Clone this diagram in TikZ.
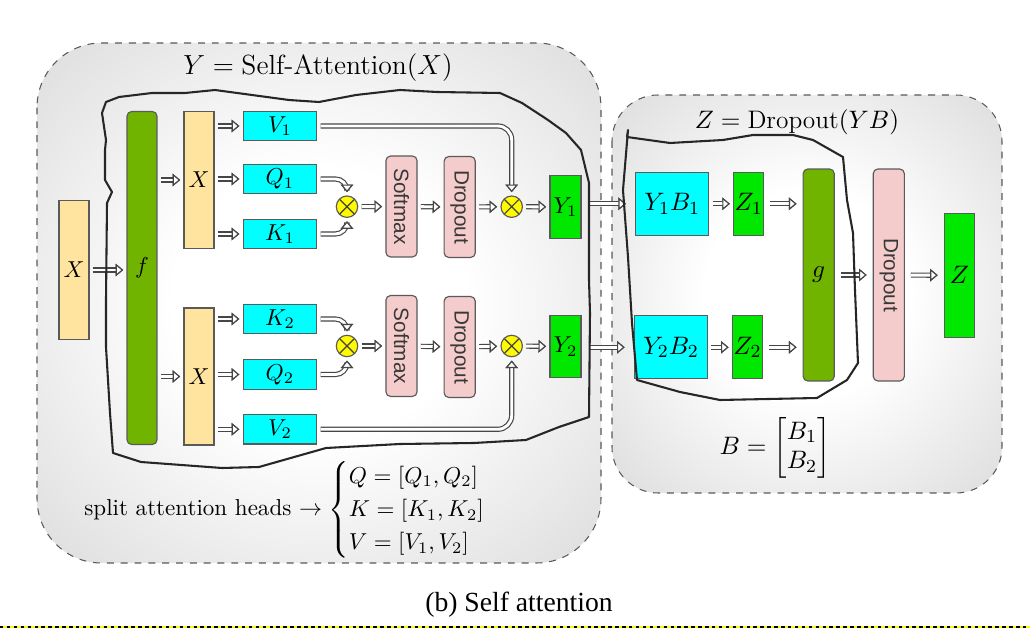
\documentclass[tikz,border=0pt]{standalone}
\usepackage{amsmath}
\usepackage{amssymb}
\usepackage{fontspec}
\newfontfamily\labelsans{Liberation Sans}
\newfontfamily\captionserif{Liberation Serif}
\usepackage{tikz}
\usetikzlibrary{arrows.meta,shapes,positioning,calc}
\usepackage{xcolor}
\definecolor{atyellow}{RGB}{255,228,160}
\definecolor{atgreen}{RGB}{112,180,0}
\definecolor{atlime}{RGB}{0,232,0}
\definecolor{atcyan}{RGB}{0,255,255}
\definecolor{atpink}{RGB}{244,204,204}
\definecolor{atdot}{RGB}{255,250,0}
\definecolor{atline}{RGB}{90,90,90}
\definecolor{atarrow}{RGB}{70,70,70}
\pgfdeclareradialshading{panelshade}{\pgfpoint{0bp}{0bp}}{color(0bp)=(white); color(13bp)=(white); color(50bp)=(gray!44)}
\tikzstyle{block} = [rectangle, draw=atline, line width=0.5pt, inner sep=0pt, font=\normalsize]
\tikzstyle{xbox} = [block, fill=atyellow, minimum width=13pt]
\tikzstyle{fbox} = [block, fill=atgreen, rounded corners=2pt, minimum width=13pt]
\tikzstyle{qkv} = [block, fill=atcyan, minimum width=32pt, minimum height=12.8pt]
\tikzstyle{opbox} = [block, fill=atpink, rounded corners=2pt, rotate=-90, minimum width=43.8pt, minimum height=13.5pt, text=black!78, font=\labelsans\fontsize{9}{10}\selectfont]
\tikzstyle{ybox} = [block, fill=atlime, minimum width=13.5pt, minimum height=27pt]
\tikzstyle{mult} = [circle, draw=atline, fill=atdot, minimum size=9.3pt, inner sep=0pt, line width=0.5pt,
  path picture={\draw[black!75, line width=0.5pt] (path picture bounding box.north west) -- (path picture bounding box.south east)
    (path picture bounding box.north east) -- (path picture bounding box.south west);}]
\tikzstyle{arrow} = [draw=white, line width=1.25pt, -{Triangle[length=3.3pt, width=5.4pt, line width=0.5pt, color=atarrow, fill=white]},
  preaction={draw=atarrow, line width=2.25pt}, shorten <=1.4pt, shorten >=1.4pt]
\tikzstyle{panel} = [draw=black!65, dashed, line width=0.45pt, shading=panelshade]
\tikzstyle{scribble} = [draw=black!85, line width=0.9pt, line join=round]

\begin{document}
\begin{tikzpicture}[x=0.434pt, y=-0.434pt, node distance=12pt]
\useasboundingbox (0,0) rectangle (1030,630);

% Panels
\draw[panel, rounded corners=28pt] (37,43) rectangle (601,563);
\draw[panel, rounded corners=20pt] (612,95) rectangle (1002,493);
\node[font=\large] (ttl) at (318,68) {$Y = \text{Self-Attention}(X)$};
\node[font=\fontsize{11}{13}\selectfont] (ttr) at (797,122) {$Z = \text{Dropout}(YB)$};

% Input and projection
\node[xbox, minimum height=60pt] (xin) at (74,270) {$X$};
\node[fbox, minimum height=144.5pt] (fproj) at (142,278) {};
\node (flab) at (142,268) {$f$};
\node[xbox, minimum height=59.5pt] (xa) at (199,180) {$X$};
\node[xbox, minimum height=59.5pt] (xb) at (199,376.5) {$X$};

% Head 1
\node[qkv] (v1) at (280,126) {$V_1$};
\node[qkv] (q1) at (280,179) {$Q_1$};
\node[qkv] (k1) at (280,234) {$K_1$};
\node[mult] (m1) at (347,206.7) {};
\node[opbox] (sm1) at (401.5,206.5) {Softmax};
\node[opbox] (dp1) at (459.7,207) {Dropout};
\node[mult] (m2) at (511.7,206.7) {};
\node[ybox] (y1) at (565.5,207) {$Y_1$};

% Head 2
\node[qkv] (k2) at (280,319) {$K_2$};
\node[qkv] (q2) at (280,374.5) {$Q_2$};
\node[qkv] (v2) at (280,429.3) {$V_2$};
\node[mult] (m3) at (347,346) {};
\node[opbox] (sm2) at (401.5,346) {Softmax};
\node[opbox] (dp2) at (459.7,347) {Dropout};
\node[mult] (m4) at (511.7,346) {};
\node[ybox] (y2) at (565.5,346.5) {$Y_2$};

% Output projection
\node[qkv, font=\fontsize{11}{13}\selectfont, minimum width=31.7pt, minimum height=27.3pt] (yb1) at (672.3,203.8) {$Y_1B_1$};
\node[block, fill=atlime, font=\fontsize{11}{13}\selectfont, minimum width=13pt, minimum height=27.3pt, right=10.3pt of yb1] (z1) {$Z_1$};
\node[qkv, font=\fontsize{11}{13}\selectfont, minimum width=31.7pt, minimum height=27.3pt] (yb2) at (671,347.3) {$Y_2B_2$};
\node[block, fill=atlime, font=\fontsize{11}{13}\selectfont, minimum width=13pt, minimum height=27.3pt, right=10.3pt of yb2] (z2) {$Z_2$};
\node[fbox, font=\fontsize{11}{13}\selectfont, minimum width=13.5pt, minimum height=92pt] (gproj) at (818.7,275) {$g$};
\node[opbox, minimum width=92pt] (dp3) at (888.8,275) {Dropout};
\node[block, fill=atlime, font=\fontsize{11}{13}\selectfont, minimum width=13pt, minimum height=53.8pt] (zout) at (959.3,275.3) {$Z$};
\node[font=\fontsize{11}{13}\selectfont] (bmat) at (775,448) {$B = \begin{bmatrix} B_1\\ B_2 \end{bmatrix}$};

% Notes
\node (split) at (297,510) {split attention heads $\rightarrow \begin{cases} Q = [Q_1, Q_2]\\ K = [K_1, K_2]\\ V = [V_1, V_2] \end{cases}$};
\node[font=\captionserif\fontsize{12}{14}\selectfont] (cap) at (519,605) {(b) Self attention};

% Connections into heads
\draw[arrow] (xin.east) -- (xin.east -| fproj.west);
\draw[arrow] (fproj.east |- xa) -- (xa);
\draw[arrow] (fproj.east |- xb) -- (xb);
\foreach \n in {v1,q1,k1} \draw[arrow] (xa.east |- \n) -- (\n);
\foreach \n in {k2,q2,v2} \draw[arrow] (xb.east |- \n) -- (\n);

% Attention products
\draw[arrow, rounded corners=5pt] (q1) -| (m1);
\draw[arrow, rounded corners=5pt] (k1) -| (m1);
\draw[arrow, rounded corners=6pt] (v1) -| (m2);
\draw[arrow, rounded corners=5pt] (k2) -| (m3);
\draw[arrow, rounded corners=5pt] (q2) -| (m3);
\draw[arrow, rounded corners=6pt] (v2) -| (m4);
\draw[arrow] (m1) -- (sm1);
\draw[arrow] (sm1) -- (dp1);
\draw[arrow] (dp1) -- (m2);
\draw[arrow] (m2) -- (y1);
\draw[arrow] (m3) -- (sm2);
\draw[arrow] (sm2) -- (dp2);
\draw[arrow] (dp2) -- (m4);
\draw[arrow] (m4) -- (y2);

% Into output projection
\draw[arrow, shorten <=3.5pt, shorten >=4pt] (y1.east |- yb1) -- (yb1);
\draw[arrow, shorten <=3.5pt, shorten >=4pt] (y2.east |- yb2) -- (yb2);
\draw[arrow] (yb1) -- (z1);
\draw[arrow] (yb2) -- (z2);
\draw[arrow, shorten <=2.6pt, shorten >=2.6pt] (z1) -- (z1 -| gproj.west);
\draw[arrow, shorten <=2.6pt, shorten >=2.6pt] (z2) -- (z2 -| gproj.west);
\draw[arrow, shorten <=2.6pt, shorten >=2.6pt] (gproj) -- (dp3);
\draw[arrow, shorten <=2.6pt, shorten >=2.6pt] (dp3) -- (zout);

% Hand-drawn groupings
\draw[scribble] (102,113) -- (106,102) -- (119,97) -- (152,93) -- (185,93) -- (215,90) -- (252,95) -- (289,100) -- (319,102)
  -- (356,95) -- (400,90) -- (437,92) -- (500,93) -- (522,103) -- (548,120) -- (566,133) -- (581,150) -- (589,183)
  -- (589,280) -- (590,313) -- (589,417) -- (559,427) -- (526,440) -- (474,443) -- (400,444) -- (326,448) -- (259,467)
  -- (222,468) -- (141,462) -- (113,453) -- (110,413) -- (106,347) -- (106,300) -- (107,203) -- (112,192) -- (105,180)
  -- (105,150) -- (106,140) -- cycle;
\draw[scribble] (628,130) -- (627,137) -- (670,143) -- (723,140) -- (753,135) -- (793,135) -- (813,140) -- (843,157)
  -- (847,200) -- (853,233) -- (855,290) -- (858,363) -- (847,380) -- (817,398) -- (720,400) -- (680,392) -- (637,380)
  -- (632,323) -- (628,257) -- (623,190) -- cycle;

% Page rule
\draw[line width=1pt, atdot] (0,627) -- (1030,627);
\draw[line width=1pt, dash pattern=on 1.5pt off 1.5pt] (0,627) -- (1030,627);
\end{tikzpicture}
\end{document}
